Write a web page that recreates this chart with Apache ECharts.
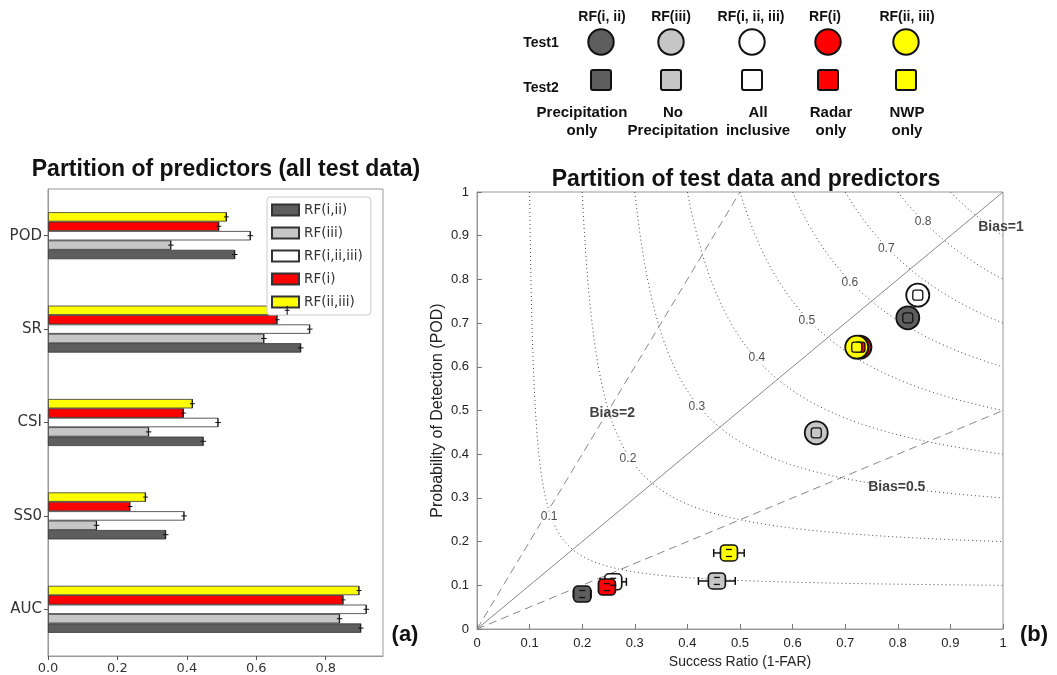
<!DOCTYPE html>
<html><head><meta charset="utf-8">
<script src="https://cdn.jsdelivr.net/npm/echarts@6/dist/echarts.min.js"></script>
<style>html,body{margin:0;padding:0;background:#fff}#c{width:1057px;height:675px}</style>
</head><body><div id="c"></div>
<script>
// ---------- data ----------
const models = ['RF(i,ii)', 'RF(iii)', 'RF(i,ii,iii)', 'RF(i)', 'RF(ii,iii)'];
const modelHeaders = ['RF(i, ii)', 'RF(iii)', 'RF(i, ii, iii)', 'RF(i)', 'RF(ii, iii)'];
const modelDescTop = ['Precipitation', 'No', 'All', 'Radar', 'NWP'];
const modelDescBottom = ['only', 'Precipitation', 'inclusive', 'only', 'only'];
const modelColors = ['#5e5e5e', '#c6c6c6', '#ffffff', '#ff0000', '#ffff00'];
const metrics = ['POD', 'SR', 'CSI', 'SS0', 'AUC'];
// bar values per metric, in model order
const podVals = [0.538, 0.354, 0.583, 0.492, 0.514];
const srVals  = [0.728, 0.622, 0.754, 0.660, 0.689];
const csiVals = [0.447, 0.290, 0.490, 0.390, 0.416];
const ss0Vals = [0.339, 0.140, 0.392, 0.236, 0.281];
const aucVals = [0.901, 0.840, 0.917, 0.850, 0.896];
const barErr = [0.008, 0.008, 0.008, 0.007, 0.007];
// performance diagram points
const test1SR  = [0.819, 0.645, 0.838, 0.728, 0.722];
const test1POD = [0.712, 0.449, 0.764, 0.645, 0.645];
const test2SR  = [0.200, 0.456, 0.259, 0.247, 0.479];
const test2POD = [0.080, 0.110, 0.108, 0.096, 0.174];
const test2SRerr  = [0.017, 0.035, 0.025, 0.010, 0.029];
const test2PODerr = [0.008, 0.008, 0.008, 0.008, 0.008];
const csiLevels = [0.1, 0.2, 0.3, 0.4, 0.5, 0.6, 0.7, 0.8, 0.9];
// contour label anchors (SR, POD) and bias labels
const csiLabelSR  = [0.137, 0.287, 0.418, 0.532, 0.627, 0.709, 0.778, 0.848];
const csiLabelPOD = [0.256, 0.389, 0.508, 0.620, 0.705, 0.792, 0.870, 0.931];
const biasValues = [2, 1, 0.5];
const biasLabels = ['Bias=2', 'Bias=1', 'Bias=0.5'];
const biasLabelPos = [[0.257, 0.494], [0.996, 0.92], [0.798, 0.325]];

// ---------- build ----------
const metricsRev = metrics.slice().reverse();
const valsByMetric = {POD: podVals, SR: srVals, CSI: csiVals, SS0: ss0Vals, AUC: aucVals};
const BW = 9.4;
// series order top->bottom within a group
const barOrder = [4, 3, 2, 1, 0];
const series = [];
barOrder.forEach((mi, k) => {
  const data = metricsRev.map(m => valsByMetric[m][mi]);
  series.push({
    type: 'bar', name: models[mi], xAxisIndex: 0, yAxisIndex: 0,
    data: data, barWidth: BW, barGap: '0%',
    itemStyle: {color: modelColors[mi], borderColor: '#333', borderWidth: 0.8},
    z: 2
  });
});
barOrder.forEach((mi, k) => {
  const offs = -2.5 * BW + (k + 0.5) * BW;
  const err = barErr[mi];
  series.push({
    type: 'custom', xAxisIndex: 0, yAxisIndex: 0, silent: true, z: 5,
    data: metricsRev.map((m, j) => [valsByMetric[m][mi], j]),
    renderItem: function (params, api) {
      const c = api.coord([api.value(0), api.value(1)]);
      const a = api.coord([api.value(0) - err, api.value(1)]);
      const b = api.coord([api.value(0) + err, api.value(1)]);
      const y = c[1] + offs;
      const st = {stroke: '#111', lineWidth: 1};
      return {type: 'group', children: [
        {type: 'line', shape: {x1: a[0], y1: y, x2: b[0], y2: y}, style: st},
        {type: 'line', shape: {x1: c[0], y1: y - 4.5, x2: c[0], y2: y + 4.5}, style: st}
      ]};
    }
  });
});

// CSI contours
csiLevels.forEach(c => {
  const pts = [];
  for (let i = 0; i <= 120; i++) {
    const t = i / 120;
    const sr = c + (1 - c) * t * t;
    const pod = 1 / (1 / c - 1 / sr + 1);
    pts.push([sr, pod]);
  }
  series.push({
    type: 'line', xAxisIndex: 1, yAxisIndex: 1, data: pts, showSymbol: false, silent: true,
    lineStyle: {color: '#444', width: 1, type: [1, 3]}, z: 1
  });
});
// Bias lines
biasValues.forEach(b => {
  const end = b >= 1 ? [1 / b, 1] : [1, b];
  series.push({
    type: 'line', xAxisIndex: 1, yAxisIndex: 1, data: [[0, 0], end], showSymbol: false, silent: true,
    lineStyle: {color: '#888', width: 1, type: b === 1 ? 'solid' : [8, 5]}, z: 1
  });
});
// CSI labels
series.push({
  type: 'scatter', xAxisIndex: 1, yAxisIndex: 1, symbolSize: 0, silent: true, z: 3,
  data: csiLabelSR.map((x, i) => [x, csiLabelPOD[i], csiLevels[i]]),
  label: {show: true, position: 'inside', formatter: p => p.data[2].toFixed(1),
    fontFamily: 'Liberation Sans', fontSize: 12, color: '#222', backgroundColor: '#fff', padding: [0, 1]}
});
// Bias labels
series.push({
  type: 'scatter', xAxisIndex: 1, yAxisIndex: 1, symbolSize: 0, silent: true, z: 3,
  data: biasLabelPos.map((p, i) => [p[0], p[1], biasLabels[i]]),
  label: {show: true, position: 'inside', formatter: p => p.data[2],
    fontFamily: 'Liberation Sans', fontSize: 14, fontWeight: 'bold', color: '#111'}
});
// Test2 error bars (horizontal)
models.forEach((m, i) => {
  series.push({
    type: 'custom', xAxisIndex: 1, yAxisIndex: 1, silent: true, z: 4,
    data: [[test2SR[i], test2POD[i], test2SRerr[i]]],
    renderItem: function (params, api) {
      const a = api.coord([api.value(0) - api.value(2), api.value(1)]);
      const b = api.coord([api.value(0) + api.value(2), api.value(1)]);
      const st = {stroke: '#111', lineWidth: 1.5};
      return {type: 'group', children: [
        {type: 'line', shape: {x1: a[0], y1: a[1], x2: b[0], y2: b[1]}, style: st},
        {type: 'line', shape: {x1: a[0], y1: a[1] - 4, x2: a[0], y2: a[1] + 4}, style: st},
        {type: 'line', shape: {x1: b[0], y1: b[1] - 4, x2: b[0], y2: b[1] + 4}, style: st}
      ]};
    }
  });
});
// Test2 squares
models.forEach((m, i) => {
  series.push({
    type: 'scatter', name: 'Test2 ' + m, xAxisIndex: 1, yAxisIndex: 1, z: 5,
    symbol: 'roundRect', symbolSize: [17, 16],
    data: [[test2SR[i], test2POD[i]]],
    itemStyle: {color: modelColors[i], borderColor: '#111', borderWidth: 1.6, opacity: 1}
  });
  // inner vertical-error caps
  series.push({
    type: 'custom', xAxisIndex: 1, yAxisIndex: 1, silent: true, z: 6,
    data: [[test2SR[i], test2POD[i], test2PODerr[i]]],
    renderItem: function (params, api) {
      const a = api.coord([api.value(0), api.value(1) - api.value(2)]);
      const b = api.coord([api.value(0), api.value(1) + api.value(2)]);
      const st = {stroke: '#111', lineWidth: 1.3};
      return {type: 'group', children: [
        {type: 'line', shape: {x1: a[0] - 3, y1: a[1], x2: a[0] + 3, y2: a[1]}, style: st},
        {type: 'line', shape: {x1: b[0] - 3, y1: b[1], x2: b[0] + 3, y2: b[1]}, style: st}
      ]};
    }
  });
});
// Test1 circles
models.forEach((m, i) => {
  series.push({
    type: 'scatter', name: 'Test1 ' + m, xAxisIndex: 1, yAxisIndex: 1, z: 7,
    symbol: 'circle', symbolSize: 23,
    data: [[test1SR[i], test1POD[i]]],
    itemStyle: {color: modelColors[i], borderColor: '#111', borderWidth: 1.8, opacity: 1}
  });
  series.push({
    type: 'scatter', xAxisIndex: 1, yAxisIndex: 1, z: 8, silent: true,
    symbol: 'roundRect', symbolSize: 10,
    data: [[test1SR[i], test1POD[i]]],
    itemStyle: {color: modelColors[i], borderColor: '#111', borderWidth: 1.3, opacity: 1}
  });
});

// ---------- top legend graphic ----------
const headX = [602, 671, 751, 825, 907];
const markX = [601, 671, 752, 828, 906];
const descX = [582, 673, 758, 831, 907];
const graphic = [];
const boldTxt = (x, y, t, size, align) => ({type: 'text', x: x, y: y,
  style: {text: t, font: 'bold ' + size + 'px "Liberation Sans", Arial, sans-serif', fill: '#111',
    textAlign: align || 'center', textVerticalAlign: 'middle'}});
models.forEach((m, i) => {
  graphic.push(boldTxt(headX[i], 17, modelHeaders[i], 14));
  graphic.push({type: 'circle', shape: {cx: markX[i], cy: 42, r: 12.7},
    style: {fill: modelColors[i], stroke: '#111', lineWidth: 2}});
  graphic.push({type: 'rect', shape: {x: markX[i] - 10, y: 70, width: 20, height: 20, r: 2},
    style: {fill: modelColors[i], stroke: '#111', lineWidth: 2}});
  graphic.push(boldTxt(descX[i], 113, modelDescTop[i], 15));
  graphic.push(boldTxt(descX[i], 131, modelDescBottom[i], 15));
});
graphic.push(boldTxt(541, 43, 'Test1', 14));
graphic.push(boldTxt(541, 88, 'Test2', 14));
graphic.push(boldTxt(405, 635, '(a)', 22));
graphic.push(boldTxt(1034, 635, '(b)', 22));

const option = {
  backgroundColor: '#fff',
  animation: false,
  title: [
    {text: 'Partition of predictors (all test data)', left: 221, top: 153, textAlign: 'center',
      textStyle: {fontFamily: 'Liberation Sans', fontSize: 23, fontWeight: 'bold', color: '#111'}},
    {text: 'Partition of test data and predictors', left: 741, top: 163, textAlign: 'center',
      textStyle: {fontFamily: 'Liberation Sans', fontSize: 23, fontWeight: 'bold', color: '#111'}}
  ],
  legend: {
    data: models.map(n => ({name: n, icon: 'rect'})), orient: 'vertical', left: 267, top: 197,
    itemWidth: 27, itemHeight: 11, itemGap: 9,
    padding: [6, 8, 6, 4],
    borderColor: '#ccc', borderWidth: 1, borderRadius: 3, backgroundColor: '#fff',
    textStyle: {fontFamily: 'DejaVu Sans', fontSize: 13.5, color: '#333'},
    selectedMode: false
  },
  grid: [
    {left: 48, top: 189, width: 335, height: 468, show: true, borderColor: '#999', borderWidth: 1},
    {left: 477, top: 192, width: 526, height: 437, show: true, borderColor: '#999', borderWidth: 1}
  ],
  xAxis: [
    {type: 'value', gridIndex: 0, min: 0, max: 0.965, interval: 0.2,
      axisLine: {show: true, lineStyle: {color: '#999'}},
      axisTick: {show: true, length: 4, lineStyle: {color: '#555'}},
      splitLine: {show: false},
      axisLabel: {formatter: v => v.toFixed(1), showMaxLabel: false, fontFamily: 'DejaVu Sans', fontSize: 13, color: '#333', margin: 6}},
    {type: 'value', gridIndex: 1, min: 0, max: 1, interval: 0.1,
      name: 'Success Ratio (1-FAR)', nameLocation: 'middle', nameGap: 26,
      nameTextStyle: {fontFamily: 'Liberation Sans', fontSize: 14, color: '#222'},
      axisLine: {show: true, lineStyle: {color: '#999'}},
      axisTick: {show: true, inside: true, length: 5, lineStyle: {color: '#777'}},
      splitLine: {show: false},
      axisLabel: {formatter: v => String(+v.toFixed(1)), fontFamily: 'Liberation Sans', fontSize: 13, color: '#222', margin: 8}}
  ],
  yAxis: [
    {type: 'category', gridIndex: 0, data: metricsRev,
      axisLine: {show: true, lineStyle: {color: '#999'}},
      axisTick: {show: true, alignWithLabel: true, length: 4, lineStyle: {color: '#555'}},
      axisLabel: {fontFamily: 'DejaVu Sans', fontSize: 15, color: '#333', margin: 6}},
    {type: 'value', gridIndex: 1, min: 0, max: 1, interval: 0.1,
      name: 'Probability of Detection (POD)', nameLocation: 'middle', nameGap: 31,
      nameTextStyle: {fontFamily: 'Liberation Sans', fontSize: 16, color: '#222'},
      axisLine: {show: true, lineStyle: {color: '#999'}},
      axisTick: {show: true, inside: true, length: 5, lineStyle: {color: '#777'}},
      splitLine: {show: false},
      axisLabel: {formatter: v => String(+v.toFixed(1)), fontFamily: 'Liberation Sans', fontSize: 13, color: '#222', margin: 8}}
  ],
  graphic: graphic,
  series: series
};
const chart = echarts.init(document.getElementById('c'));
chart.setOption(option);
</script>
</body></html>
